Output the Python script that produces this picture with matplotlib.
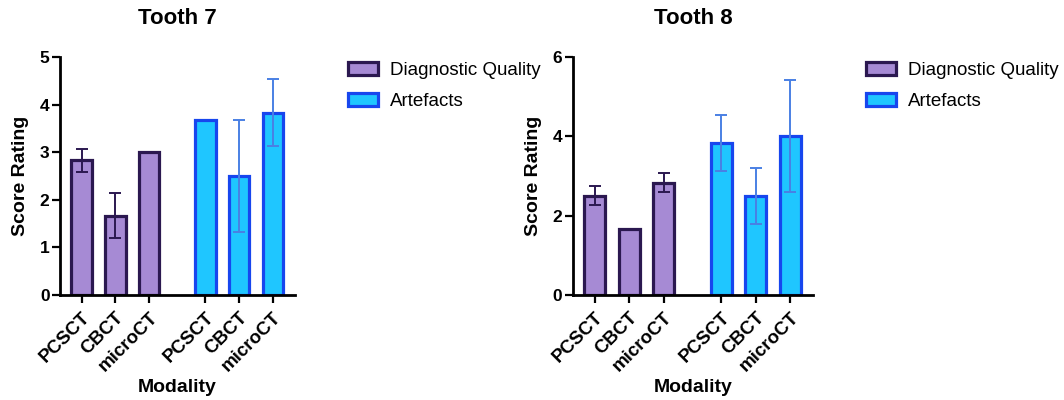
import numpy as np
import matplotlib.pyplot as plt
from matplotlib.patches import Patch

plt.rcParams['font.family'] = ['Liberation Sans', 'DejaVu Sans']

modalities = ['PCSCT', 'CBCT', 'microCT']

# mean score and SD per modality, one list per tooth / rating type
t7_quality = [2.83, 1.67, 3.0]
t7_quality_sd = [0.24, 0.48, 0.0]
t7_artefacts = [3.67, 2.5, 3.83]
t7_artefacts_sd = [0.0, 1.17, 0.71]

t8_quality = [2.5, 1.67, 2.83]
t8_quality_sd = [0.24, 0.0, 0.24]
t8_artefacts = [3.83, 2.5, 4.0]
t8_artefacts_sd = [0.71, 0.7, 1.41]

purple_fill = '#A68AD4'
purple_edge = '#2B1850'
blue_fill = '#1FC6FF'
blue_edge = '#1746EE'
blue_err = '#4A80E4'


def bar_panel(ax, title, quality, quality_sd, artefacts, artefacts_sd, yticks):
    x_q = np.arange(3)
    x_a = np.arange(3) + 3.67
    ax.bar(x_q, quality, width=0.61, color=purple_fill, edgecolor=purple_edge,
           linewidth=2.3, zorder=2)
    ax.bar(x_a, artefacts, width=0.61, color=blue_fill, edgecolor=blue_edge,
           linewidth=2.3, zorder=2)
    for xs, ys, sds, c in [(x_q, quality, quality_sd, purple_edge),
                           (x_a, artefacts, artefacts_sd, blue_err)]:
        for xi, yi, si in zip(xs, ys, sds):
            if si > 0:
                ax.errorbar(xi, yi, yerr=si, fmt='none', ecolor=c,
                            elinewidth=1.4, capsize=4.3, capthick=1.4, zorder=3)

    ax.set_xticks(list(x_q) + list(x_a))
    ax.set_xticklabels(modalities * 2, rotation=45, ha='right',
                       rotation_mode='anchor', fontsize=13.5, fontweight='bold')
    ax.set_xlim(-0.64, 6.33)
    ax.set_yticks(yticks)
    ax.set_yticklabels([str(t) for t in yticks], fontsize=12.5, fontweight='bold')
    ax.set_ylim(0, yticks[-1])
    ax.spines['top'].set_visible(False)
    ax.spines['right'].set_visible(False)
    for s in ['left', 'bottom']:
        ax.spines[s].set_linewidth(2.0)
    ax.tick_params(axis='both', direction='out', length=6, width=1.6, pad=1.5)
    ax.tick_params(axis='x', pad=4)
    ax.set_ylabel('Score Rating', fontsize=14, fontweight='bold')
    ax.yaxis.set_label_coords(-0.13, 0.5)
    ax.set_xlabel('Modality', fontsize=14, fontweight='bold')
    ax.xaxis.set_label_coords(0.5, -0.355)
    ax.text(0.5, 1 + (57 - 18.5) / 238, title, transform=ax.transAxes,
            ha='center', va='center', fontsize=16, fontweight='bold')


fig = plt.figure(figsize=(10.64, 4.0), dpi=100)
ax1 = fig.add_axes([0.0564, 0.2625, 0.2209, 0.595])
ax2 = fig.add_axes([0.5383, 0.2625, 0.2259, 0.595])

bar_panel(ax1, 'Tooth 7', t7_quality, t7_quality_sd, t7_artefacts, t7_artefacts_sd,
          [0, 1, 2, 3, 4, 5])
bar_panel(ax2, 'Tooth 8', t8_quality, t8_quality_sd, t8_artefacts, t8_artefacts_sd,
          [0, 2, 4, 6])

handles = [Patch(facecolor=purple_fill, edgecolor=purple_edge, linewidth=2.3),
           Patch(facecolor=blue_fill, edgecolor=blue_edge, linewidth=2.3)]
labels = ['Diagnostic Quality', 'Artefacts']
for xleg in [348 / 1064, 866 / 1064]:
    fig.legend(handles, labels, loc='upper left', bbox_to_anchor=(xleg, 0.845),
               frameon=False, fontsize=13.5, borderpad=0, borderaxespad=0,
               handlelength=1.6, handleheight=0.7, handletextpad=0.65,
               labelspacing=0.75)

fig.savefig('out.png', dpi=100)
